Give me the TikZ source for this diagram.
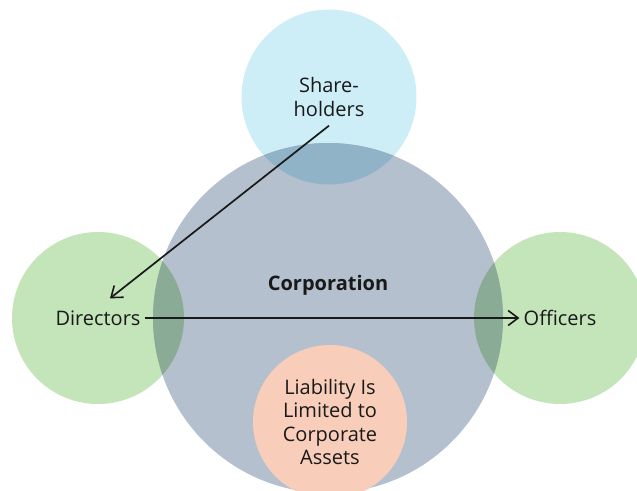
\documentclass[tikz,border=0pt]{standalone}
\usepackage{fontspec}
\setmainfont{Open Sans}
\usetikzlibrary{positioning,arrows.meta}

\definecolor{corpblue}{RGB}{180,192,206}
\definecolor{sharecyan}{RGB}{205,238,246}
\definecolor{sharedark}{RGB}{145,179,199}
\definecolor{pplgreen}{RGB}{196,228,186}
\definecolor{ppldark}{RGB}{138,172,150}
\definecolor{liabpeach}{RGB}{248,206,186}
\definecolor{inkgray}{RGB}{25,25,25}

\begin{document}
\begin{tikzpicture}[x=1pt,y=-1pt,
	blob/.style={circle,inner sep=0pt,minimum size=#1},
	txt/.style={text=inkgray,font=\fontsize{20}{23.5}\selectfont,inner sep=4pt},
	link/.style={-{Straight Barb[length=10pt,width=15pt,line width=1.6pt]},line width=1.7pt,draw=inkgray}]
	\useasboundingbox (0,0) rectangle (637,490);
	% circles
	\node[blob=172pt,fill=pplgreen] (dir) at (98,318) {};
	\node[blob=172pt,fill=pplgreen] (off) at (560,318) {};
	\node[blob=175pt,fill=sharecyan] (share) at (329,97) {};
	\node[blob=350pt,fill=corpblue] (corp) at (328,318) {};
	% overlaps
	\begin{scope}
		\clip (corp.center) circle[radius=175pt];
		\fill[ppldark] (dir.center) circle[radius=86pt];
		\fill[ppldark] (off.center) circle[radius=86pt];
		\fill[sharedark] (share.center) circle[radius=87.5pt];
	\end{scope}
	\node[blob=154pt,fill=liabpeach,txt,align=center] (liab) at (330,422) {Liability Is\\Limited to\\Corporate\\Assets};
	% labels
	\node[txt] (dirtext) at (dir.center) {Directors};
	\node[txt] (offtext) at (off.center) {Officers};
	\node[txt,align=center] (sharetext) at (share.center) {Share-\\holders};
	\node[txt,font=\fontsize{20}{23.5}\selectfont\bfseries] (corptext) at ([yshift=33pt]corp.center) {Corporation};
	% arrows
	\draw[link] ([yshift=-5pt]sharetext.south) -- ([xshift=12pt,yshift=8pt]dirtext.north);
	\draw[link] (dirtext.east) -- (offtext.west);
\end{tikzpicture}
\end{document}
